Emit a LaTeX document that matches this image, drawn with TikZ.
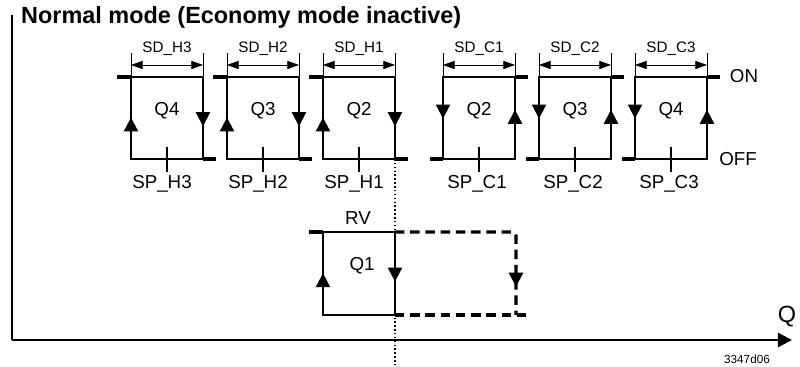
\documentclass[tikz,border=0pt]{standalone}
\usepackage{fontspec}
\setmainfont{Liberation Sans}
\usetikzlibrary{arrows.meta,decorations.markings}
\tikzset{
  lazo/.style={line width=1.7pt, postaction={decorate},
    decoration={markings,
      mark=at position 0.135 with {\arrow{Triangle[length=12pt,width=12pt]}},
      mark=at position 0.66 with {\arrow{Triangle[length=12pt,width=12pt]}}}},
  ramaf/.style={postaction={decorate},
    decoration={markings,
      mark=at position 0.86 with {\arrow{Triangle[length=12pt,width=12pt]}}}},
  tope/.style={line width=3.4pt},
  marca/.style={line width=1.7pt},
  cota/.style={line width=0.6pt, {Triangle[length=10pt,width=7pt]}-{Triangle[length=10pt,width=7pt]}},
  auxl/.style={line width=0.6pt},
  rama/.style={line width=2.6pt, dash pattern=on 8pt off 5pt},
  guia/.style={line width=1.3pt, dash pattern=on 1.3pt off 2pt},
  eje/.style={line width=2.3pt},
  etq/.style={font=\fontsize{16}{18}\selectfont, inner sep=0pt},
  etqs/.style={font=\fontsize{13}{15}\selectfont, inner sep=0pt}
}
\begin{document}
\begin{tikzpicture}[x=0.3mm,y=-0.3mm]
\useasboundingbox (0,0) rectangle (800,367);
\node[font=\fontsize{20}{23}\selectfont\bfseries, anchor=west, inner sep=0pt] (titulo) at (21,17) {Normal mode (Economy mode inactive)};

% ejes
\coordinate (o) at (12,340);
\draw[eje] (12,15) -- (o);
\draw[eje, -{Triangle[length=12pt,width=12pt]}] (o) -- (792,340);
\node[font=\fontsize{20}{22}\selectfont, inner sep=0pt] (q) at (787,317) {Q};
\node[font=\fontsize{10}{12}\selectfont, inner sep=0pt] (ref) at (747,359) {3347d06};

% calefaccion
\draw[lazo] (131,159) -- (131,77) -- (203,77) -- (203,159) -- cycle;
\draw[tope] (117,77) -- (131,77) (203,159) -- (216,159);
\draw[auxl] (131,53) -- (131,77) (203,53) -- (203,77);
\draw[cota] (131,65) -- (203,65);
\draw[marca] (167,147) -- (167,172);
\node[etqs] (sdh3) at (167,49) {SD\_H3};
\node[etq] (q4h) at (167,111) {Q4};
\node[etq] (sph3) at (162,184) {SP\_H3};

\draw[lazo] (227,159) -- (227,77) -- (299,77) -- (299,159) -- cycle;
\draw[tope] (213,77) -- (227,77) (299,159) -- (312,159);
\draw[auxl] (227,53) -- (227,77) (299,53) -- (299,77);
\draw[cota] (227,65) -- (299,65);
\draw[marca] (263,147) -- (263,172);
\node[etqs] (sdh2) at (263,49) {SD\_H2};
\node[etq] (q3h) at (263,111) {Q3};
\node[etq] (sph2) at (258,184) {SP\_H2};

\draw[lazo] (323,159) -- (323,77) -- (395,77) -- (395,159) -- cycle;
\draw[tope] (309,77) -- (323,77) (395,159) -- (408,159);
\draw[auxl] (323,53) -- (323,77) (395,53) -- (395,77);
\draw[cota] (323,65) -- (395,65);
\draw[marca] (359,147) -- (359,172);
\node[etqs] (sdh1) at (359,49) {SD\_H1};
\node[etq] (q2h) at (359,111) {Q2};
\node[etq] (sph1) at (354,184) {SP\_H1};

% refrigeracion
\draw[lazo] (443,77) -- (443,159) -- (515,159) -- (515,77) -- cycle;
\draw[tope] (430,159) -- (443,159) (515,77) -- (528,77);
\draw[auxl] (443,53) -- (443,77) (515,53) -- (515,77);
\draw[cota] (443,65) -- (515,65);
\draw[marca] (479,147) -- (479,172);
\node[etqs] (sdc1) at (479,49) {SD\_C1};
\node[etq] (q2c) at (479,111) {Q2};
\node[etq] (spc1) at (477,184) {SP\_C1};

\draw[lazo] (539,77) -- (539,159) -- (611,159) -- (611,77) -- cycle;
\draw[tope] (526,159) -- (539,159) (611,77) -- (624,77);
\draw[auxl] (539,53) -- (539,77) (611,53) -- (611,77);
\draw[cota] (539,65) -- (611,65);
\draw[marca] (575,147) -- (575,172);
\node[etqs] (sdc2) at (575,49) {SD\_C2};
\node[etq] (q3c) at (575,111) {Q3};
\node[etq] (spc2) at (573,184) {SP\_C2};

\draw[lazo] (635,77) -- (635,159) -- (707,159) -- (707,77) -- cycle;
\draw[tope] (622,159) -- (635,159) (707,77) -- (720,77);
\draw[auxl] (635,53) -- (635,77) (707,53) -- (707,77);
\draw[cota] (635,65) -- (707,65);
\draw[marca] (671,147) -- (671,172);
\node[etqs] (sdc3) at (671,49) {SD\_C3};
\node[etq] (q4c) at (671,111) {Q4};
\node[etq] (spc3) at (669,184) {SP\_C3};

\node[etq] (on) at (744,76) {ON};
\node[etq] (off) at (738,159) {OFF};

% Q1
\draw[lazo] (323,315) -- (323,232) -- (395,232) -- (395,315) -- cycle;
\draw[tope] (309,232) -- (323,232);
\draw[rama, ramaf, rounded corners=3pt] (395,232) -- (516,232) -- (516,315);
\draw[rama] (395,315) -- (529,315);
\node[etq] (rv) at (358,218) {RV};
\node[etq] (q1) at (362,266) {Q1};
\draw[guia] (395,159) -- (395,367);
\end{tikzpicture}
\end{document}
